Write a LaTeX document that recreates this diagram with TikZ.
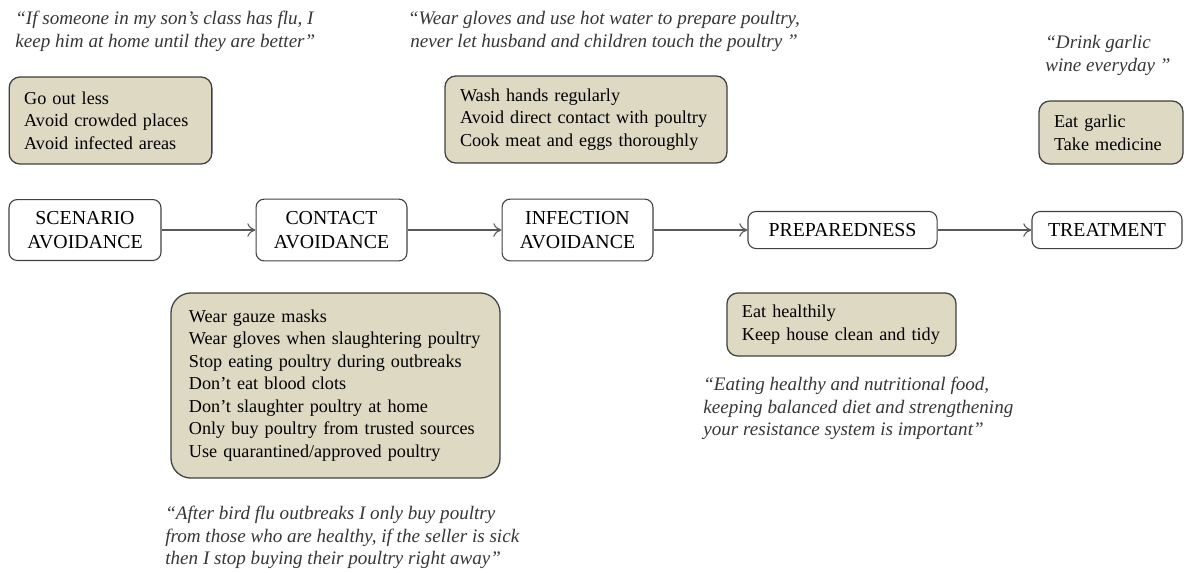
\documentclass[tikz,border=0pt]{standalone}
\usepackage{fontspec}
\setmainfont{Liberation Serif}
\usetikzlibrary{arrows.meta,positioning}
\definecolor{tan}{HTML}{DDD9C3}
\definecolor{edge}{HTML}{404040}
\definecolor{quotegray}{HTML}{363636}

\begin{document}
\begin{tikzpicture}[x=0.55pt,y=-0.55pt,
  every node/.style={font=\fontsize{10}{12.4}\selectfont},
  stage/.style={draw=edge,line width=0.6pt,rounded corners=4.5pt,align=center,inner sep=0pt,
    font=\fontsize{10.9}{13.2}\selectfont},
  tipbox/.style={draw=edge,fill=tan,line width=0.7pt,rounded corners=6pt,align=left,
    inner ysep=0pt,inner xsep=8.25pt},
  saying/.style={font=\fontsize{10.5}{12.4}\selectfont\itshape,text=quotegray,align=left,
    inner sep=0pt,anchor=north west},
  flow/.style={draw=black!65,line width=0.6pt,-{To[length=4.5pt,width=7.5pt]}}]
  \useasboundingbox (0,0) rectangle (1188,572);

  % the five stages
  \node[stage,minimum width=83.6pt,minimum height=33.5pt] (scen) at (85,230) {SCENARIO\\AVOIDANCE};
  \node[stage,minimum width=83pt,minimum height=34pt] (cont) at (331.5,230) {CONTACT\\AVOIDANCE};
  \node[stage,minimum width=83pt,minimum height=34pt] (infe) at (577.5,230) {INFECTION\\AVOIDANCE};
  \node[stage,minimum width=104pt,minimum height=20.4pt] (prep) at (842.5,230) {PREPAREDNESS};
  \node[stage,minimum width=82.5pt,minimum height=20.4pt] (trea) at (1107,230) {TREATMENT};

  \draw[flow] (scen) -- (cont);
  \draw[flow] (cont) -- (infe);
  \draw[flow] (infe) -- (prep);
  \draw[flow] (prep) -- (trea);

  % what people do
  \node[tipbox,text width=95pt,minimum height=47.9pt] (tipscen) at (110.5,120.5)
    {Go out less\\Avoid crowded places\\Avoid infected areas};
  \node[tipbox,text width=161.2pt,inner xsep=9.9pt,minimum height=101.8pt,rounded corners=11pt] (tipcont) at (335.5,385.5)
    {Wear gauze masks\\Wear gloves when slaughtering poultry\\Stop eating poultry during outbreaks\\
     Don’t eat blood clots\\Don’t slaughter poultry at home\\Only buy poultry from trusted sources\\
     Use quarantined/approved poultry};
  \node[tipbox,text width=138.6pt,minimum height=47.9pt] (tipinfe) at (586,119.5)
    {Wash hands regularly\\Avoid direct contact with poultry\\Cook meat and eggs thoroughly};
  \node[tipbox,text width=109.5pt,minimum height=34.7pt] (tipprep) at (841.5,324.5)
    {Eat healthily\\Keep house clean and tidy};
  \node[tipbox,text width=62.7pt,minimum height=34.7pt] (tiptrea) at (1111,132.5)
    {Eat garlic\\Take medicine};

  % what people say
  \node[saying] (sayscen) at (15,11)
    {“If someone in my son’s class has flu, I\\keep him at home until they are better”};
  \node[saying,anchor=north,align=center] (sayinfe) at (604,11)
    {“Wear gloves and use hot water to prepare poultry,\\never let husband and children touch the poultry ”};
  \node[saying] (saytrea) at (1045,35)
    {“Drink garlic\\wine everyday ”};
  \node[saying] (saycont) at (165,506)
    {“After bird flu outbreaks I only buy poultry\\from those who are healthy, if the seller is sick\\then I stop buying their poultry right away”};
  \node[saying] (sayprep) at (703,377)
    {“Eating healthy and nutritional food,\\keeping balanced diet and strengthening\\your resistance system is important”};
\end{tikzpicture}
\end{document}
